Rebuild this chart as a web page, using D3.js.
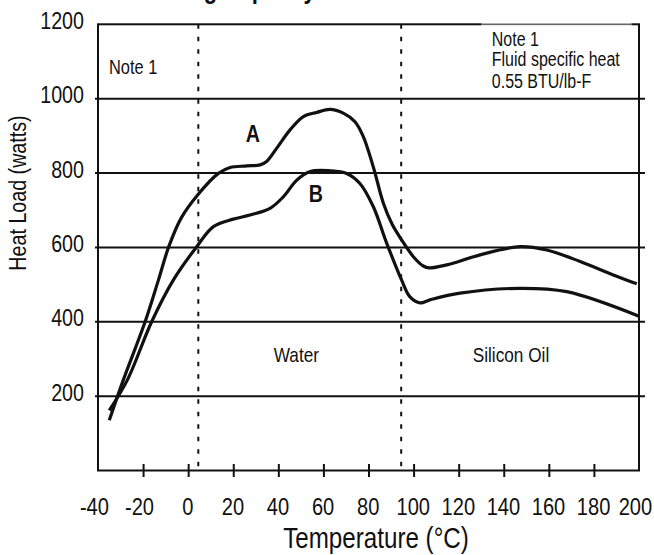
<!DOCTYPE html>
<html>
<head>
<meta charset="utf-8">
<script src="https://cdn.jsdelivr.net/npm/d3@7"></script>
<style>
  body { margin: 0; background: #fff; }
  svg text { font-family: "Liberation Sans", Arial, sans-serif; fill: #111; }
</style>
</head>
<body>
<svg id="chart"></svg>
<script>
// data
const xTicks = [-40, -20, 0, 20, 40, 60, 80, 100, 120, 140, 160, 180, 200];
const yTicks = [200, 400, 600, 800, 1000, 1200];
const fluidLimits = [4.5, 94.5];

// curve A : [temperature, heat load]
const curveA = [
  [-35, 135], [-28.8, 243], [-19.1, 400], [-13.2, 512], [-8.6, 602], [-3.0, 680],
  [4.2, 741], [13.4, 799], [18.6, 815], [26, 819], [31.9, 822], [34.8, 831],
  [39.3, 867], [45.2, 916], [51.1, 952], [57, 963], [62.9, 971], [68.8, 961],
  [74, 938], [77.7, 898], [82.1, 817], [86.6, 719], [90.5, 662], [94.7, 620],
  [99.9, 575], [104.3, 550], [107, 545], [114.7, 553], [129.5, 580], [147.2, 602],
  [159.1, 593], [173.9, 562], [188.6, 526], [199, 502]
];
// curve B
const curveB = [
  [-35, 162], [-27, 243], [-16.2, 400], [-6.6, 512], [3.8, 602], [11.2, 656],
  [20, 676], [27.4, 687], [36.3, 705], [42.2, 736], [48.2, 781], [54.1, 804],
  [62.9, 806], [70.3, 799], [76.2, 772], [82.1, 710], [88.1, 611], [94.7, 512],
  [98.4, 467], [102.9, 451], [107.3, 459], [120.6, 477], [147.2, 490],
  [167.9, 481], [200, 415]
];

const width = 654;
const height = 555;
const narrow = 0.82; // squeeze Liberation Sans to look like a condensed face

const svg = d3.select('svg#chart').attr('width', width).attr('height', height);

const x = d3.scaleLinear().domain([-40, 200]).range([98, 639]);
const y = d3.scaleLinear().domain([0, 1200]).range([470.5, 24.3]);

// narrow text helper
function label(px, py, str, size, anchor, weight) {
  return svg.append('text')
    .attr('transform', 'translate(' + px + ',' + py + ') scale(' + narrow + ',1)')
    .attr('text-anchor', anchor || 'start')
    .style('font-size', size + 'px')
    .style('font-weight', weight || 'normal')
    .text(str);
}

// title, mostly cut off at the top
label(135, -2, 'Cooling Capacity', 27, 'start', 'bold');

// horizontal grid lines
svg.append('g').selectAll('line').data(yTicks.filter(d => d < 1200)).enter()
  .append('line')
  .attr('x1', x(-40) - 3).attr('x2', x(200) + 6)
  .attr('y1', d => y(d)).attr('y2', d => y(d))
  .attr('stroke', '#111').attr('stroke-width', 2);

// dashed fluid limits
svg.append('g').selectAll('line').data(fluidLimits).enter()
  .append('line')
  .attr('x1', d => x(d)).attr('x2', d => x(d))
  .attr('y1', y(1200)).attr('y2', y(0))
  .attr('stroke', '#111').attr('stroke-width', 2)
  .attr('stroke-dasharray', '4.5,8');

// frame
svg.append('rect')
  .attr('x', x(-40)).attr('y', y(1200))
  .attr('width', x(200) - x(-40)).attr('height', y(0) - y(1200))
  .attr('fill', 'none').attr('stroke', '#111').attr('stroke-width', 2);

// note box on the top right sits over the frame
svg.append('line')
  .attr('x1', x(130.2)).attr('x2', x(196.6))
  .attr('y1', y(1200)).attr('y2', y(1200))
  .attr('stroke', '#fff').attr('stroke-width', 3);
svg.append('line')
  .attr('x1', x(130.2)).attr('x2', x(196.6))
  .attr('y1', y(1200)).attr('y2', y(1200))
  .attr('stroke', '#666').attr('stroke-width', 1.5);

// x axis ticks + labels
const xAxis = svg.append('g')
  .attr('transform', 'translate(0,' + y(0) + ')')
  .call(d3.axisBottom(x).tickValues(xTicks).tickSize(0).tickPadding(0)
    .tickFormat(d => String(d)));
xAxis.select('.domain').remove();
xAxis.selectAll('.tick text')
  .attr('y', 45).attr('dy', 0)
  .attr('dx', d => d < 0 ? -5 : (d === 200 ? -5 : -1))
  .attr('transform', 'scale(' + narrow + ',1)')
  .attr('fill', '#111')
  .style('font-size', '24.5px')
  .style('font-family', '"Liberation Sans", Arial, sans-serif');
xAxis.selectAll('.tick')
  .filter(d => d > -40 && d < 200)
  .append('line')
  .attr('y1', -6.5).attr('y2', 6.5)
  .attr('stroke', '#111').attr('stroke-width', 2);

// y axis labels
const yAxis = svg.append('g')
  .attr('transform', 'translate(' + x(-40) + ',0)')
  .call(d3.axisLeft(y).tickValues(yTicks).tickSize(0).tickFormat(d => String(d)));
yAxis.select('.domain').remove();
yAxis.selectAll('.tick text')
  .attr('x', -14 / narrow)
  .attr('dy', 4.2)
  .attr('transform', 'scale(' + narrow + ',1)')
  .attr('fill', '#111')
  .style('font-size', '24px')
  .style('font-family', '"Liberation Sans", Arial, sans-serif');

// axis titles
label(376, 547.5, 'Temperature (°C)', 29.5, 'middle');
svg.append('text')
  .attr('transform', 'translate(26,193) rotate(-90) scale(' + narrow + ',1)')
  .attr('text-anchor', 'middle')
  .style('font-size', '24px')
  .text('Heat Load (watts)');

// curves
const line = d3.line()
  .x(d => x(d[0]))
  .y(d => y(d[1]))
  .curve(d3.curveCatmullRom.alpha(0.5));

[curveA, curveB].forEach(c => {
  svg.append('path')
    .datum(c)
    .attr('d', line)
    .attr('fill', 'none')
    .attr('stroke', '#111')
    .attr('stroke-width', 3.2)
    .attr('stroke-linejoin', 'round');
});

// curve names
label(x(28.7), y(884), 'A', 24, 'middle', 'bold');
label(x(56.6), y(723), 'B', 24, 'middle', 'bold');

// region labels
label(x(48), y(292), 'Water', 21, 'middle');
label(x(143.2), y(292), 'Silicon Oil', 21, 'middle');

// notes
label(x(-35.1), y(1066), 'Note 1', 20);
label(x(134.7), y(1142.5), 'Note 1', 19.5);
label(x(134.7), y(1088), 'Fluid specific heat', 19.5);
label(x(134.7), y(1028), '0.55 BTU/lb-F', 19.5);
</script>
</body>
</html>
